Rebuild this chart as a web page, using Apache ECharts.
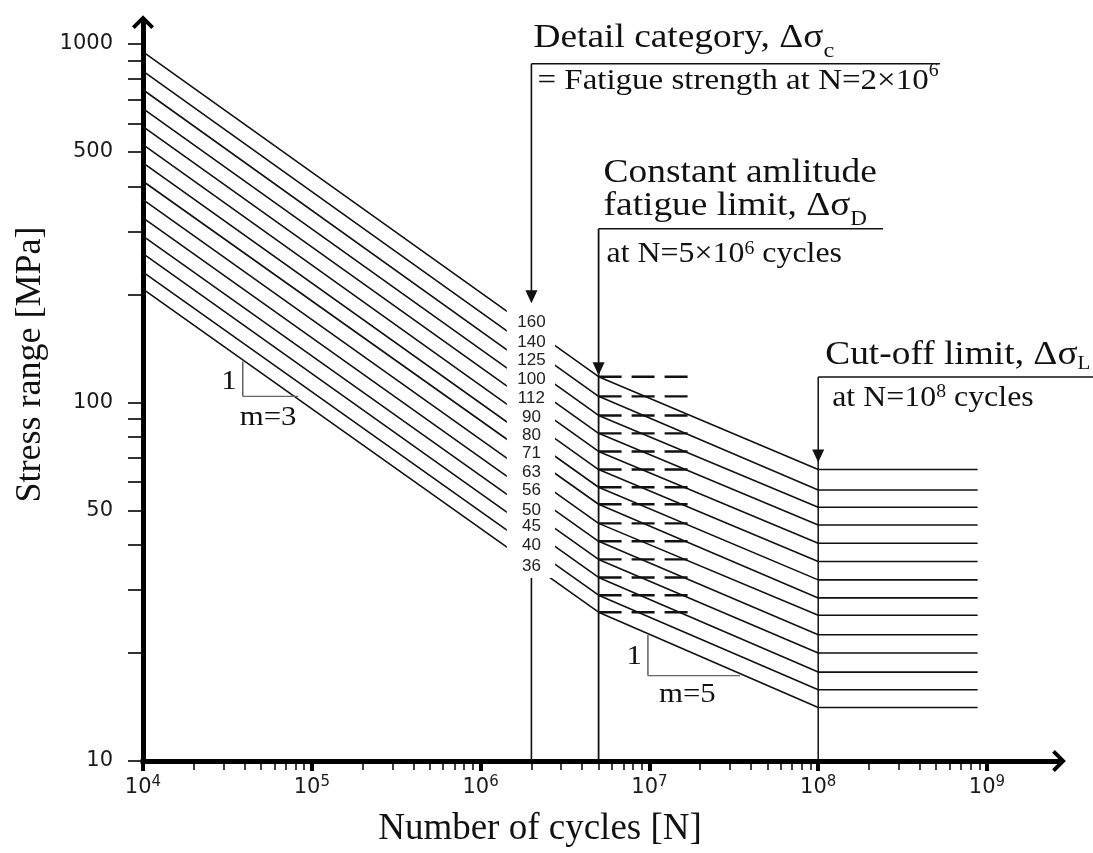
<!DOCTYPE html>
<html lang="en">
<head>
    <meta charset="UTF-8">
    <title>Fatigue strength curves</title>
    <script src="https://cdn.jsdelivr.net/npm/echarts@6.0.0/dist/echarts.min.js"></script>
    <style>html, body { margin: 0; padding: 0; background: #fff; }</style>
</head>
<body>

<div id="main" style="width: 1093px;height:853px;"></div>
<script type="text/javascript">

    // detail categories, top curve to bottom curve
    let categories = [160, 140, 125, 112, 100, 90, 80, 71, 63, 56, 50, 45, 40, 36];
    // labels as printed at N=2x10^6 (100 and 112 swapped in the figure)
    let categoryLabels = ['160', '140', '125', '100', '112', '90', '80', '71', '63', '56', '50', '45', '40', '36'];
    let labelStress = [167, 147, 131, 116, 103, 91, 81, 72, 64, 57, 50, 45, 40, 35];

    // corner points of every curve: N=1e4, knee N=5e6, cut-off N=1e8, end of line
    let cycles = [1e4, 5e6, 1e8, 8.8e8];
    let stressStart = [950, 840, 745, 660, 588, 524, 466, 414, 368, 327, 291, 260, 231, 207];
    let stressKnee = [118, 104, 92, 82, 73, 65, 58, 52, 46, 41, 36.5, 32.5, 29, 26];
    let stressCutoff = [65, 57, 51, 45.5, 40.5, 36, 32, 28.5, 25.5, 22.5, 20, 17.7, 15.8, 14.1];
    let dashCycles = [5e6, 1.8e7];

    // blank band where the category labels sit
    let gapCycles = [1.43e6, 2.76e6];
    let gapStress = [32.4, 193];

    // slope triangles
    let slopeCorner = [[3.9e4, 104], [9.8e6, 17.3]];
    let slopeTop = [130, 22.5];
    let slopeEnd = [8.3e4, 3.44e7];
    let slopeText = ['m=3', 'm=5'];

    // axis ticks
    let xMajorTicks = [1e4, 1e5, 1e6, 1e7, 1e8, 1e9];
    let tickSteps = [1, 2, 3, 4, 5, 6, 7, 8, 9];
    let xMinorTicks = [];
    xMajorTicks.slice(0, 5).forEach(d => tickSteps.forEach(m => xMinorTicks.push(m * d)));
    xMinorTicks.push(1e9);
    let yLabelTicks = [10, 50, 100, 500, 1000];
    let yTicks = [10, 20, 30, 40, 50, 60, 70, 80, 90, 100, 200, 300, 400, 500, 600, 700, 800, 900, 1000];

    const ink = '#111';
    const serif = '"Liberation Serif", "Times New Roman", serif';
    const sans = '"DejaVu Sans", sans-serif';
    const chevron = 'path://M10,0 L20,10 L17.5,12.5 L10,5 L2.5,12.5 L0,10 Z';

    function seg(api, a, b, w, color) {
        let p = api.coord(a), q = api.coord(b);
        return {type: 'line', shape: {x1: p[0], y1: p[1], x2: q[0], y2: q[1]},
            style: {stroke: color || ink, lineWidth: w}};
    }

    function arrowDown(api, tip) {
        let p = api.coord(tip);
        return {type: 'polygon', shape: {points: [[p[0], p[1]], [p[0] - 6, p[1] - 13], [p[0] + 6, p[1] - 13]]},
            style: {fill: ink}};
    }

    function note(api, anchor, dx, dy, text, rich, align) {
        let p = api.coord(anchor);
        return {type: 'text', x: p[0] + dx, y: p[1] + dy, scaleX: 1.1,
            style: {text: text, rich: rich, fill: ink, fontFamily: serif, align: align || 'left', verticalAlign: 'middle'}};
    }

    function richSet(size, lh, subSize, subAlign, subLh) {
        return {
            m: {fontSize: size, fontFamily: serif, fill: ink, lineHeight: lh},
            s: {fontSize: subSize, fontFamily: serif, fill: ink, verticalAlign: subAlign, lineHeight: subLh}
        };
    }

    function overlay(name, z, build) {
        return {
            type: 'custom', name: name, z: z, silent: true, clip: false,
            data: [[1e4, 10]],
            renderItem: function (params, api) {
                return {type: 'group', children: build(api)};
            }
        };
    }

    let detailAt = [2e6, 880], detailEnd = 5.27e8;
    let limitAt = [5e6, 305], limitEnd = 2.42e8;
    let cutoffAt = [1e8, 117.8], cutoffEnd = 4.5e9;

    let series = categories.map((c, i) => ({
        name: String(c),
        type: 'line',
        z: 2,
        symbol: 'none',
        silent: true,
        lineStyle: {color: ink, width: 1.6},
        data: [[cycles[0], stressStart[i]], [cycles[1], stressKnee[i]],
            [cycles[2], stressCutoff[i]], [cycles[3], stressCutoff[i]]]
    }));

    series.push(overlay('dashes', 3, api => stressKnee.map(s => {
        let el = seg(api, [dashCycles[0], s], [dashCycles[1], s], 2.4);
        el.style.lineDash = [23, 10];
        return el;
    })));

    series.push(overlay('guides', 2, api => [
        seg(api, detailAt, [detailAt[0], 10], 1.6),
        seg(api, detailAt, [detailEnd, detailAt[1]], 1.6),
        seg(api, limitAt, [limitAt[0], 10], 1.8),
        seg(api, limitAt, [limitEnd, limitAt[1]], 1.6),
        seg(api, cutoffAt, [cutoffAt[0], 10], 1.5),
        seg(api, cutoffAt, [cutoffEnd, cutoffAt[1]], 1.5)
    ]));

    series.push(overlay('gap', 5, api => {
        let p = api.coord([gapCycles[0], gapStress[1]]), q = api.coord([gapCycles[1], gapStress[0]]);
        return [{type: 'rect', shape: {x: p[0], y: p[1], width: q[0] - p[0], height: q[1] - p[1]}, style: {fill: '#fff'}}];
    }));

    series.push(overlay('labels', 6, api => categoryLabels.map((t, i) => {
        let p = api.coord([2e6, labelStress[i]]);
        return {type: 'text', x: p[0], y: p[1],
            style: {text: t, fontFamily: '"Liberation Sans", Arial, sans-serif', fontSize: 17, fill: '#222', align: 'center', verticalAlign: 'middle'}};
    })));

    series.push(overlay('notes', 6, api => [
        arrowDown(api, [2e6, 189]),
        arrowDown(api, [5e6, 119]),
        arrowDown(api, [1e8, 68]),
        note(api, detailAt, 2, -25.5, '{m|Detail category, Δσ}{s|c}', richSet(34, 47, 22, 'bottom', 22)),
        note(api, detailAt, 6, 17, '{m|= Fatigue strength at N=2×10}{s|6}', richSet(30, 38, 18, 'top', 18)),
        note(api, limitAt, 5, -55.5, '{m|Constant amlitude}', richSet(34, 34, 20, 'bottom', 20)),
        note(api, limitAt, 5, -22.5, '{m|fatigue limit, Δσ}{s|D}', richSet(34, 48, 21, 'bottom', 21)),
        note(api, limitAt, 8, 26, '{m|at N=5×10}{s|6}{m| cycles}', richSet(29, 30, 18, 'top', 18)),
        note(api, cutoffAt, 7, -21.5, '{m|Cut-off limit, Δσ}{s|L}', richSet(34, 37, 19, 'bottom', 19)),
        note(api, cutoffAt, 14, 21, '{m|at N=10}{s|8}{m| cycles}', richSet(29, 30, 18, 'top', 18))
    ]));

    series.push(overlay('slopes', 6, api => {
        let out = [];
        slopeCorner.forEach((c, i) => {
            out.push(seg(api, c, [c[0], slopeTop[i]], 1.4, '#555'));
            out.push(seg(api, c, [slopeEnd[i], c[1]], 1.4, '#666'));
            out.push(note(api, c, -6, i ? -19 : -15, '{m|1}', richSet(28, 28, 16, 'bottom', 16), 'right'));
            out.push(note(api, c, i ? 11 : -3, i ? 19 : 21, '{m|' + slopeText[i] + '}', richSet(28, 28, 16, 'bottom', 16)));
        });
        return out;
    }));

    let option = {
        backgroundColor: '#fff',
        animation: false,
        grid: {left: 143, right: 34, top: 22, bottom: 91},
        xAxis: [{
            type: 'log',
            logBase: 10,
            min: 1e4,
            max: 2.67e9,
            name: 'Number of cycles [N]',
            nameLocation: 'middle',
            nameGap: 50,
            nameTextStyle: {fontFamily: serif, fontSize: 37, color: ink, padding: [0, 122, 0, 0]},
            axisLine: {show: true, symbol: ['none', chevron], symbolSize: [22, 18],
                lineStyle: {color: '#000', width: 5, cap: 'square'}},
            axisTick: {show: true, customValues: xMinorTicks, length: 9, lineStyle: {color: '#000', width: 1.5}},
            axisLabel: {
                customValues: xMajorTicks,
                margin: 14,
                fontFamily: sans,
                fontSize: 21,
                color: '#1a1a1a',
                formatter: v => '{b|10}{s|' + Math.round(Math.log10(v)) + '}',
                rich: {
                    b: {fontFamily: sans, fontSize: 21, color: '#1a1a1a', lineHeight: 26},
                    s: {fontFamily: sans, fontSize: 15, color: '#1a1a1a', lineHeight: 15, verticalAlign: 'top'}
                }
            },
            splitLine: {show: false}
        }, {
            type: 'log',
            logBase: 10,
            min: 1e4,
            max: 2.67e9,
            position: 'bottom',
            axisLine: {show: false},
            axisLabel: {show: false},
            splitLine: {show: false},
            axisTick: {show: true, customValues: xMajorTicks, length: 10, lineStyle: {color: '#000', width: 4}}
        }],
        yAxis: {
            type: 'log',
            logBase: 10,
            min: 10,
            max: 1151,
            name: 'Stress range [MPa]',
            nameLocation: 'middle',
            nameGap: 94,
            nameTextStyle: {fontFamily: serif, fontSize: 36, color: ink, padding: [0, 0, 0, 54]},
            axisLine: {show: true, symbol: ['none', chevron], symbolSize: [22, 18],
                lineStyle: {color: '#000', width: 5, cap: 'square'}},
            axisTick: {show: true, customValues: yTicks, length: 15, lineStyle: {color: '#000', width: 1.6}},
            axisLabel: {
                customValues: yLabelTicks,
                margin: 30,
                fontFamily: sans,
                fontSize: 21,
                color: '#1a1a1a',
                formatter: v => String(Math.round(v))
            },
            splitLine: {show: false}
        },
        series: series
    };

    let myChart = echarts.init(document.getElementById('main'));
    myChart.setOption(option);
</script>
</body>
</html>
